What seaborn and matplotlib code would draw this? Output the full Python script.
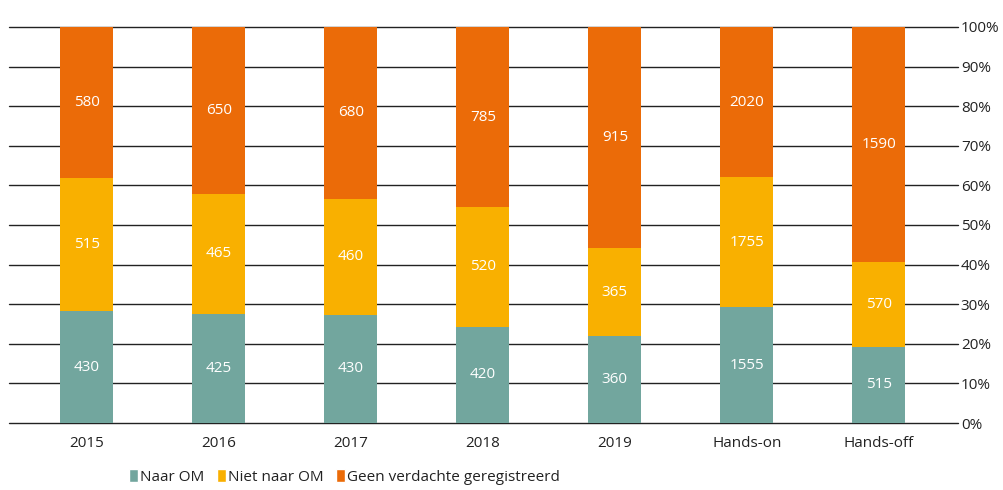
import matplotlib
matplotlib.use("Agg")
import matplotlib.pyplot as plt
import seaborn as sns
import pandas as pd
import numpy as np
from matplotlib.patches import Patch

categories = ["2015", "2016", "2017", "2018", "2019", "Hands-on", "Hands-off"]
naar_om = [430, 425, 430, 420, 360, 1555, 515]
niet_naar_om = [515, 465, 460, 520, 365, 1755, 570]
geen_verdachte = [580, 650, 680, 785, 915, 2020, 1590]

series_names = ["Naar OM", "Niet naar OM", "Geen verdachte geregistreerd"]
colors = ["#72a69e", "#f9b000", "#eb6b08"]

sns.set_style("white")
plt.rcParams["font.family"] = ["Open Sans", "DejaVu Sans"]

raw = np.array([naar_om, niet_naar_om, geen_verdachte], dtype=float)
pct = raw / raw.sum(axis=0) * 100

fig = plt.figure(figsize=(10.04, 4.9), dpi=100)
ax = fig.add_axes([9 / 1004, 1 - 423 / 490, 949 / 1004, 396 / 490])

# grid lines behind the bars
for v in range(0, 101, 10):
    ax.axhline(v, color="#222222", lw=1.0, zorder=0, clip_on=False)

bottom = np.zeros(len(categories))
for i, name in enumerate(series_names):
    df = pd.DataFrame({"cat": categories, "pct": pct[i]})
    sns.barplot(data=df, x="cat", y="pct", bottom=bottom, color=colors[i],
                width=0.40, ax=ax, zorder=2, saturation=1, linewidth=0)
    for j in range(len(categories)):
        ax.text(j, bottom[j] + pct[i][j] / 2, f"{int(raw[i][j])}",
                ha="center", va="center", color="white", fontsize=11, zorder=3)
    bottom = bottom + pct[i]

ax.set_xlim(-0.59, 6.6)
ax.set_ylim(0, 100)
ax.set_xlabel("")
ax.set_ylabel("")
ax.yaxis.tick_right()
ax.set_yticks(range(0, 101, 10))
ax.set_yticklabels([f"{v}%" for v in range(0, 101, 10)])
ax.tick_params(axis="y", length=0, pad=2, labelsize=11, colors="#222222")
ax.tick_params(axis="x", length=0, pad=9, labelsize=11, colors="#222222")
for s in ax.spines.values():
    s.set_visible(False)

handles = [Patch(facecolor=c, label=n) for c, n in zip(colors, series_names)]
fig.legend(handles=handles, loc="lower left", bbox_to_anchor=(115 / 1004, -0.018),
           ncol=3, frameon=False, fontsize=11, handlelength=0.6, handleheight=0.9,
           handletextpad=0.15, columnspacing=0.8, labelcolor="#222222")

fig.savefig("out.png", dpi=100)
